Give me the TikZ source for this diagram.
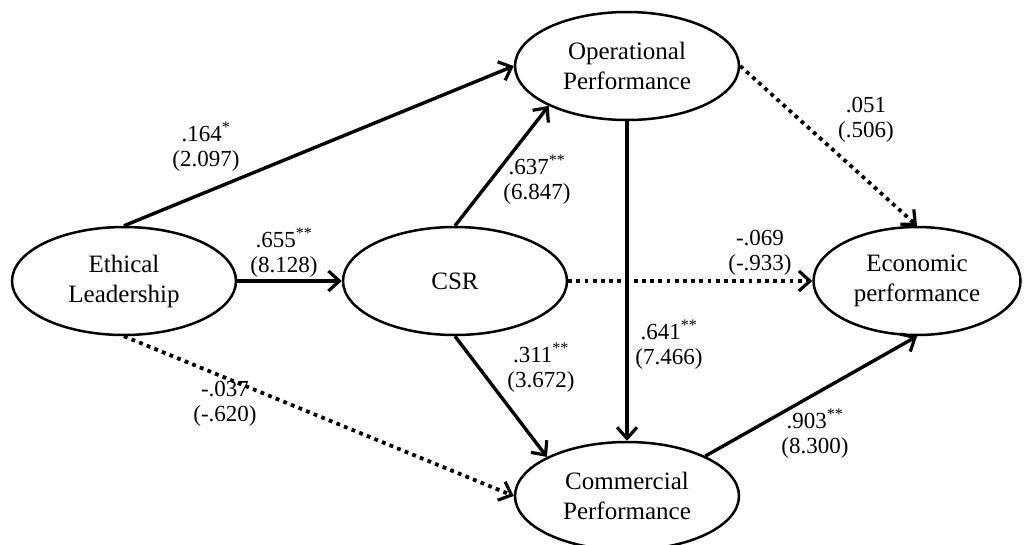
\documentclass[tikz,border=0pt]{standalone}
\usepackage{fontspec}
\setmainfont{Liberation Serif}
\usetikzlibrary{arrows.meta,shapes.geometric}
\begin{document}
\begin{tikzpicture}[x=1pt,y=-1pt,
  var/.style={draw,ellipse,line width=2.5pt,minimum width=224pt,minimum height=108pt,inner sep=0pt,align=center,font=\fontsize{25}{30}\selectfont},
  lbl/.style={align=center,font=\fontsize{23}{25}\selectfont,inner sep=0pt},
  sig/.style={line width=3.4pt,-{Straight Barb[length=11pt,width=20pt,line width=3.2pt]}},
  ns/.style={line width=3.8pt,dash pattern=on 3.8pt off 4.4pt,-{Straight Barb[length=11pt,width=20pt,line width=3.2pt]}}]
\useasboundingbox (0,0) rectangle (1024,544);
\node[var] (el) at (124,281) {Ethical\\Leadership};
\node[var] (csr) at (455,281) {CSR};
\node[var] (op) at (627,66) {Operational\\Performance};
\node[var] (com) at (627,496) {Commercial\\Performance};
\node[var,minimum width=207pt] (eco) at (917,281) {Economic\\performance};
\draw[sig] (el.north) -- (op.west);
\draw[sig] (el.east) -- (csr.west);
\draw[sig] (csr.north) -- (op.207);
\draw[sig] (csr.south) -- (com.154);
\draw[sig] (op.south) -- (com.north);
\draw[sig] (com.27) -- (eco.south);
\draw[ns] (el.south) -- (com.west);
\draw[ns] (csr.east) -- (eco.west);
\draw[ns] (op.east) -- (eco.north);
\node[lbl] (l1) at (206,147) {.164\textsuperscript{*}\\(2.097)};
\node[lbl] (l2) at (284,253) {.655\textsuperscript{**}\\(8.128)};
\node[lbl] (l3) at (537,180) {.637\textsuperscript{**}\\(6.847)};
\node[lbl] (l4) at (760,253) {-.069\\(-.933)};
\node[lbl] (l5) at (866,120) {.051\\(.506)};
\node[lbl] (l6) at (669,345) {.641\textsuperscript{**}\\(7.466)};
\node[lbl] (l7) at (541,368) {.311\textsuperscript{**}\\(3.672)};
\node[lbl] (l8) at (225,404) {-.037\\(-.620)};
\node[lbl] (l9) at (815,434) {.903\textsuperscript{**}\\(8.300)};
\end{tikzpicture}
\end{document}
